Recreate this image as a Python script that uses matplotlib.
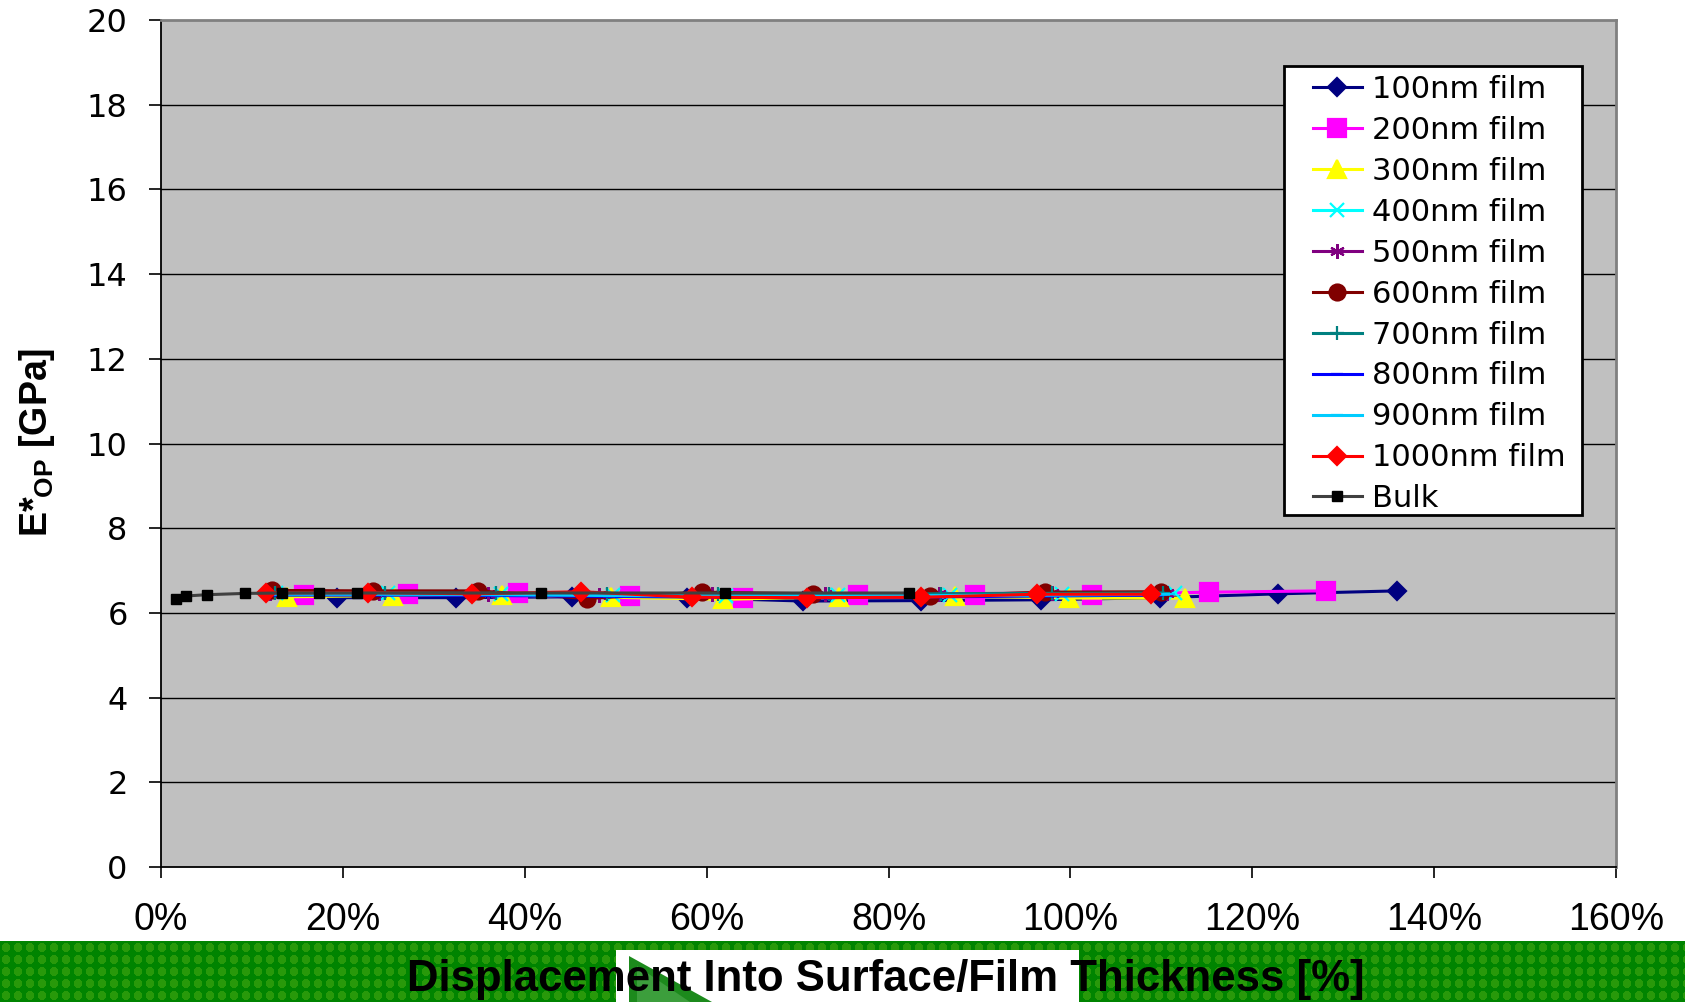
import matplotlib
matplotlib.use("Agg")
import matplotlib.pyplot as plt
import numpy as np
from matplotlib.patches import Rectangle, Polygon

# ---- Data ----------------------------------------------------------------
# displacement into surface / film thickness [%] and E*_OP [GPa]
x100 = [19.4, 32.4, 45.2, 57.8, 70.6, 83.6, 96.8, 109.9, 122.8, 135.9]
y100 = [6.36, 6.36, 6.38, 6.36, 6.28, 6.29, 6.31, 6.36, 6.45, 6.52]

x200 = [15.7, 27.2, 39.3, 51.6, 64.0, 76.6, 89.5, 102.4, 115.2, 128.1]
y200 = [6.42, 6.44, 6.46, 6.40, 6.36, 6.42, 6.42, 6.43, 6.49, 6.52]

x300 = [13.9, 25.5, 37.5, 49.5, 61.8, 74.6, 87.3, 99.8, 112.6]
y300 = [6.38, 6.41, 6.42, 6.37, 6.32, 6.38, 6.40, 6.35, 6.35]

x400 = [12.7, 25.0, 37.4, 49.7, 62.1, 74.4, 86.8, 99.1, 111.5]
y400 = [6.47, 6.46, 6.45, 6.42, 6.40, 6.42, 6.43, 6.44, 6.47]

x500 = [12.0, 24.0, 36.0, 48.2, 60.6, 73.0, 85.5, 98.0, 110.6]
y500 = [6.46, 6.46, 6.45, 6.42, 6.44, 6.44, 6.45, 6.47, 6.48]

x600 = [12.2, 23.3, 34.9, 46.8, 59.5, 71.7, 84.6, 97.2, 110.0]
y600 = [6.53, 6.52, 6.52, 6.34, 6.49, 6.45, 6.40, 6.49, 6.50]

x700 = [12.5, 24.6, 36.8, 49.0, 61.2, 73.5, 85.8, 98.0, 110.2]
y700 = [6.47, 6.47, 6.46, 6.45, 6.44, 6.44, 6.45, 6.46, 6.47]

x800 = [12.4, 24.5, 36.7, 48.9, 61.0, 73.3, 85.6, 97.8, 110.0]
y800 = [6.42, 6.42, 6.41, 6.39, 6.37, 6.36, 6.38, 6.40, 6.42]

x900 = [12.6, 24.8, 37.0, 49.3, 61.5, 73.8, 86.1, 98.4, 110.8]
y900 = [6.44, 6.44, 6.43, 6.41, 6.40, 6.40, 6.41, 6.42, 6.44]

x1000 = [11.6, 22.8, 34.2, 46.2, 58.4, 71.0, 83.6, 96.3, 108.9]
y1000 = [6.47, 6.48, 6.45, 6.50, 6.37, 6.36, 6.37, 6.44, 6.44]

xbulk = [1.7, 2.8, 5.1, 9.2, 13.3, 17.4, 21.5, 41.8, 62.0, 82.3]
ybulk = [6.33, 6.40, 6.43, 6.46, 6.47, 6.47, 6.47, 6.47, 6.47, 6.47]

x_ticks = [0, 20, 40, 60, 80, 100, 120, 140, 160]
x_tick_labels = ["0%", "20%", "40%", "60%", "80%", "100%", "120%", "140%", "160%"]
y_ticks = [0, 2, 4, 6, 8, 10, 12, 14, 16, 18, 20]

# ---- Figure setup --------------------------------------------------------
W, H = 1685, 1002
fig = plt.figure(figsize=(W / 100, H / 100), dpi=100)
fig.patch.set_facecolor("white")

# green slide band along the bottom edge
band_h = 61
band = fig.add_axes([0, 0, 1, band_h / H])
tile = np.zeros((12, 12, 3))
tile[:, :] = (0.0, 0.52, 0.0)
yy, xx = np.mgrid[0:12, 0:12]
blob = (xx - 5.5) ** 2 / 16 + (yy - 5.0) ** 2 / 20 < 1
tile[blob] = (0.16, 0.60, 0.04)
pattern = np.tile(tile, (band_h // 12 + 2, W // 12 + 2, 1))
band.imshow(pattern, extent=(0, pattern.shape[1], 0, pattern.shape[0]),
            origin="upper", interpolation="nearest", aspect="auto")
band.set_xlim(0, W)
band.set_ylim(0, band_h)
band.add_patch(Rectangle((616, 0), 463, H - 950, facecolor="white",
                         edgecolor="none"))
band.add_patch(Polygon([(629, H - 956), (629, 0), (712, 0)],
                       closed=True, facecolor="#1c8a1c", edgecolor="none"))
band.add_patch(Polygon([(637, H - 966), (637, 0), (690, 0)],
                       closed=True, facecolor="#3c9e3c", edgecolor="none"))
band.axis("off")

ax = fig.add_axes([161 / W, 1 - 867 / H, (1616 - 161) / W, (867 - 20) / H])
ax.set_facecolor("#C0C0C0")

series = [
    (x100, y100, "100nm film", "#000080", "D", 9.2),
    (x200, y200, "200nm film", "#FF00FF", "s", 12.3),
    (x300, y300, "300nm film", "#FFFF00", "^", 13),
    (x400, y400, "400nm film", "#00FFFF", "x", 9.5),
    (x500, y500, "500nm film", "#800080", (6, 2, 0), 10.5),
    (x600, y600, "600nm film", "#800000", "o", 11.5),
    (x700, y700, "700nm film", "#008080", "+", 10),
    (x800, y800, "800nm film", "#0000FF", "_", 8),
    (x900, y900, "900nm film", "#00CCFF", "_", 8),
    (x1000, y1000, "1000nm film", "#FF0000", "D", 9.2),
]
for xs, ys, label, color, marker, ms in series:
    ax.plot(xs, ys, color=color, linewidth=2.2, marker=marker, markersize=ms,
            markerfacecolor=color, markeredgecolor=color, markeredgewidth=1.6,
            label=label)
ax.plot(xbulk, ybulk, color="#404040", linewidth=2.2, marker="s",
        markersize=7.5, markerfacecolor="black", markeredgecolor="black",
        label="Bulk")

# ---- Cosmetics -----------------------------------------------------------
ax.set_xlim(0, 160)
ax.set_ylim(0, 20)
ax.set_xticks(x_ticks, x_tick_labels, fontsize=27, fontfamily="Liberation Sans")
ax.set_yticks(y_ticks, [str(v) for v in y_ticks], fontsize=23,
              fontfamily="DejaVu Sans")
ax.tick_params(axis="x", direction="out", length=8, width=1.2, pad=17)
ax.tick_params(axis="y", direction="out", length=9, width=1.2, pad=15)
for v in y_ticks[1:-1]:
    ax.axhline(v, color="black", linewidth=1.0, zorder=0.5)
ax.spines["left"].set_color("black")
ax.spines["bottom"].set_color("black")
ax.spines["left"].set_linewidth(1.3)
ax.spines["bottom"].set_linewidth(1.3)
ax.spines["top"].set_color("#808080")
ax.spines["right"].set_color("#808080")
ax.spines["top"].set_linewidth(2)
ax.spines["right"].set_linewidth(2)

fig.text(37 / W, 1 - 442 / H, r"E*$_{\mathregular{OP}}$ [GPa]", rotation=90,
         ha="center", va="center", fontsize=27, fontweight="bold",
         family="Liberation Sans")
fig.text(886 / W, 11 / H, "Displacement Into Surface/Film Thickness [%]",
         ha="center", va="baseline", fontsize=31.5, fontweight="bold",
         family="Liberation Sans", zorder=5)

# legend box drawn separately so the padding can be set freely
fig.patches.append(Rectangle((1284 / W, 1 - 515 / H), (1582 - 1284) / W,
                             (515 - 66) / H, transform=fig.transFigure,
                             facecolor="white", edgecolor="black",
                             linewidth=2, zorder=3))
leg = fig.legend(loc="upper left", bbox_to_anchor=(1313 / W, 1 - 75 / H),
                 bbox_transform=fig.transFigure, frameon=False,
                 prop={"family": "DejaVu Sans", "size": 22},
                 handlelength=1.6, handletextpad=0.33, labelspacing=0.39,
                 borderpad=0, borderaxespad=0)
leg.set_zorder(4)

plt.savefig("out.png", dpi=100)
